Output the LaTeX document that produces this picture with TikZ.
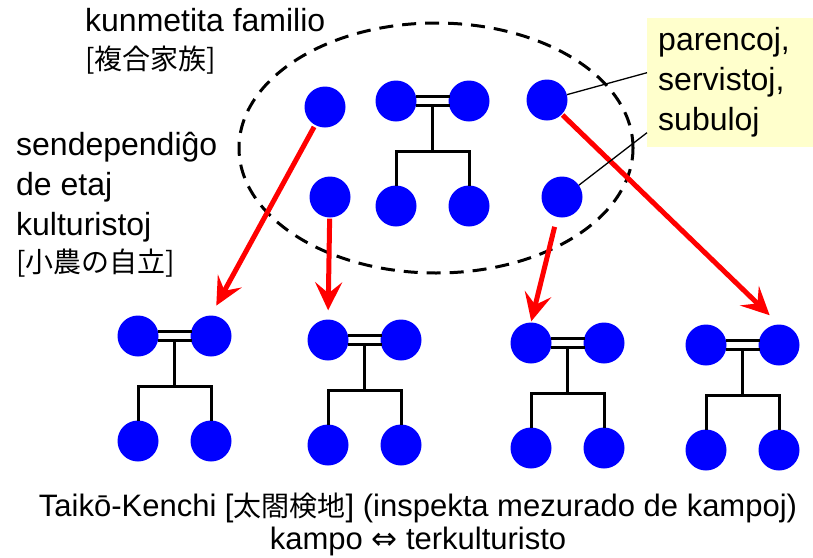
\documentclass[tikz,border=0pt]{standalone}
\usepackage{fontspec}
\setmainfont{Liberation Sans}
\newfontfamily\jpfont{Noto Sans CJK JP}
\newfontfamily\symfont{DejaVu Sans}
\usetikzlibrary{arrows.meta,shapes.geometric}

\definecolor{notebg}{RGB}{255,255,204}
\definecolor{arrowred}{RGB}{255,0,0}

\tikzset{
    person/.style = {shape=circle, fill=blue, minimum size=41pt, inner sep=0pt},
    kin/.style    = {draw, line width=3pt},
    family/.pic   = {
        \node [person] (-tl) at (-36.5,0) {};
        \node [person] (-tr) at (36.5,0) {};
        \node [person] (-bl) at (-36.5,105) {};
        \node [person] (-br) at (36.5,105) {};
        \draw [kin] (-17,-4.5) -- (17,-4.5) (-17,4.5) -- (17,4.5);
        \draw [kin] (0,4.5) -- (0,50);
        \draw [kin] (-36.5,85) |- (0,50) -| (36.5,85);
    },
}

\begin{document}
\begin{tikzpicture}
        [
            x                 = 1pt,
            y                 = -1pt,
            every node/.style = {font=\fontsize{32}{40}\selectfont, inner sep=0pt},
            jp/.style         = {font=\jpfont\fontsize{28}{30}\selectfont},
            move/.style       = {draw=arrowred, line width=5pt, -{Stealth[length=28pt, width=27pt, inset=11pt]}},
            callout/.style    = {draw, line width=1.3pt},
        ]
        \useasboundingbox (0,0) rectangle (813,557);

        % the old household
        \node [draw, ellipse, line width=3pt, dash pattern=on 14pt off 9pt,
               minimum width=394pt, minimum height=250pt] (clan) at (436,148) {};
        \pic (home) at (432.5,101) {family};
        \node [person] (p1) at (325,107) {};
        \node [person] (p2) at (547,100) {};
        \node [person] (p3) at (330,197) {};
        \node [person] (p4) at (562,197) {};

        % the new small farms
        \pic (f1) at (174.5,336) {family};
        \pic (f2) at (364.5,340) {family};
        \pic (f3) at (567.5,343) {family};
        \pic (f4) at (742.5,345) {family};

        \draw [move, shorten <=2pt, shorten >=11pt] (p1) -- (f1-tr.north);
        \draw [move, shorten <=1pt, shorten >=9pt] (p3) -- (f2-tl.north);
        \draw [move, shorten <=10pt, shorten >=1pt] (p4) -- (f3-tl.north);
        \draw [move, shorten <=1pt, shorten >=13pt] (p2) -- (f4-tr.north);

        % labels
        \node [anchor=north west] (title) at (85,8.5) {kunmetita familio};
        \node [jp, anchor=base west] (titlejp) at (85,69) {[複合家族]};
        \node [anchor=north west, align=left] (split) at (16,131.5) {sendependiĝo\\de etaj\\kulturistoj};
        \node [jp, anchor=base west] (splitjp) at (16,272) {[小農の自立]};

        \node [fill=notebg, anchor=north west, align=left, text width=144pt,
               minimum width=166pt, minimum height=129pt, inner xsep=11pt] (note) at (647,18)
              {parencoj,\\servistoj,\\subuloj};
        \draw [callout] (p2.15) -- ([yshift=10pt]note.west);
        \draw [callout] (p4.35) -- ([yshift=-50pt]note.west);

        \node [align=center, anchor=north, font=\fontsize{31}{33}\selectfont] (caption) at (418,493)
              {Taikō-Kenchi [{\jpfont\fontsize{28}{33}\selectfont 太閤検地}] (inspekta mezurado de kampoj)\\
               kampo {\symfont ⇔} terkulturisto};
    \end{tikzpicture}
\end{document}
